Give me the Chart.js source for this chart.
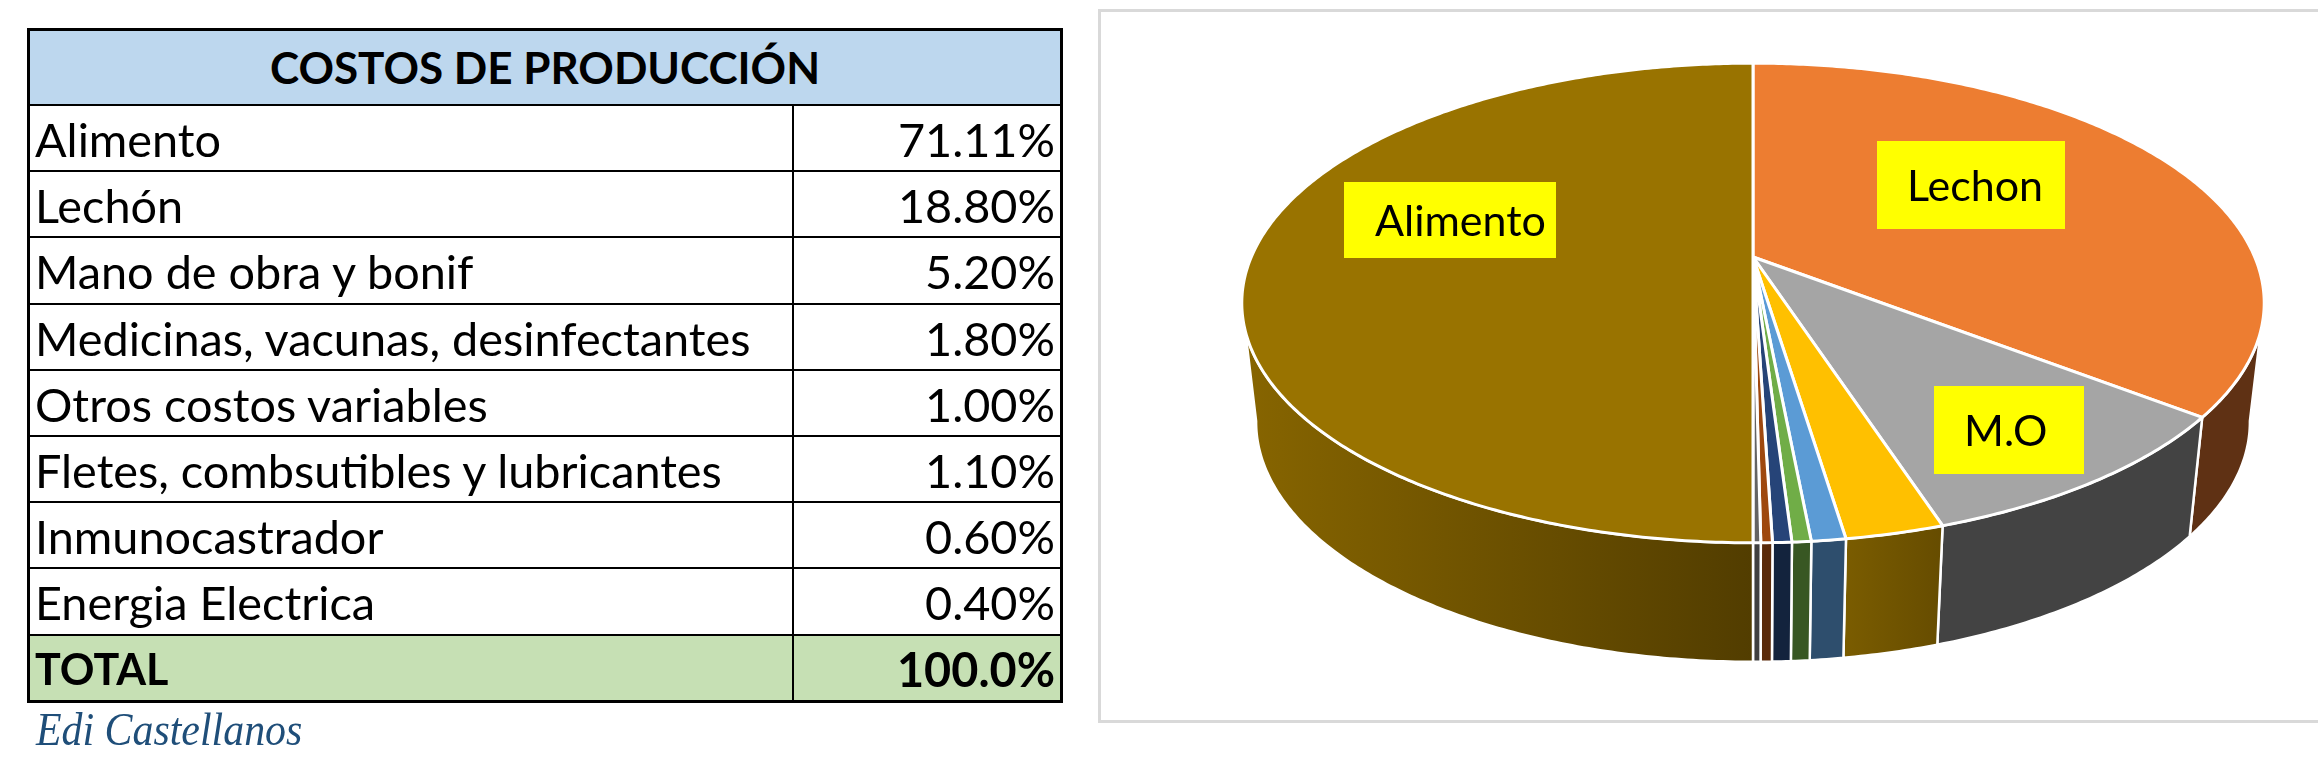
<!DOCTYPE html>
<html lang="es">
<head>
<meta charset="utf-8">
<title>Costos de producción</title>
<script src="https://cdn.jsdelivr.net/npm/chart.js@4/dist/chart.umd.js"></script>
<style>
  html, body { margin: 0; padding: 0; background: #fff; width: 2318px; height: 780px; overflow: hidden; }
  #frame { position: absolute; left: 1098px; top: 9px; width: 1220px; height: 708px; border: 3px solid #d9d9d9; border-right: none; }
  #chart { position: absolute; left: 0; top: 0; }
  #costos { position: absolute; left: 27px; top: 28px; width: 1036px; border-collapse: collapse; table-layout: fixed;
            font-family: Lato, sans-serif; font-size: 46.8px; color: #000; border: 3px solid #000; }
  #costos th, #costos td { border: 2px solid #000; padding: 2px 5px 0; height: 62.2px; line-height: 62.2px; white-space: nowrap; overflow: hidden; }
  #costos th { background: #bdd7ee; font-size: 44px; padding: 0 5px; height: 73px; line-height: 73px; text-align: center; }
  #costos td:nth-child(2) { text-align: right; }
  #costos tr.total td { background: #c6e0b4; font-weight: bold; }
  #costos tr.total td:first-child { font-size: 43px; }
  #firma { position: absolute; left: 36px; top: 703px; font-family: "Liberation Serif", serif; font-style: italic; font-size: 46px; color: #1f4e79; transform: scaleX(0.91); transform-origin: left top; }
</style>
</head>
<body>
<div id="frame"></div>
<canvas id="chart" width="2318" height="780"></canvas>
<table id="costos"><colgroup><col style="width:764px"><col></colgroup><thead><tr><th colspan="2">COSTOS DE PRODUCCIÓN</th></tr></thead><tbody></tbody></table>
<div id="firma">Edi Castellanos</div>
<script>
// tabla
const costNames = ['Alimento', 'Lechón', 'Mano de obra y bonif', 'Medicinas, vacunas, desinfectantes', 'Otros costos variables', 'Fletes, combsutibles y lubricantes', 'Inmunocastrador', 'Energia Electrica'];
const costShares = ['71.11%', '18.80%', '5.20%', '1.80%', '1.00%', '1.10%', '0.60%', '0.40%'];
const totalName = 'TOTAL';
const totalShare = '100.0%';

// pie: values, they do not follow the table
const sliceLabels = ['Lechon', 'M.O', '', '', '', '', '', '', 'Alimento'];
const sliceValues = [35.5, 9.5, 2.6, 0.9, 0.5, 0.5, 0.3, 0.2, 50];

const sliceColors = ['#ED7D31', '#A5A5A5', '#FFC000', '#5B9BD5', '#70AD47', '#264478', '#9E480E', '#636363', '#997300'];
const wallColors = ['#5F3114', '#434343', ['#7A5C00', '#664C00'], '#2E4E6D', '#385723', '#13233D', '#5A2A0A', '#404040', ['#876500', '#523D00']];
// x, y, w, h, text x, text y
const labelBoxes = [[1877, 141, 188, 88, 1907, 187], [1934, 386, 150, 88, 1964, 432], [1344, 182, 212, 76, 1375, 222]];

const tbody = document.querySelector('#costos tbody');
costNames.forEach((name, i) => {
    tbody.insertAdjacentHTML('beforeend', `<tr><td>${name}</td><td>${costShares[i]}</td></tr>`);
});
tbody.insertAdjacentHTML('beforeend', `<tr class="total"><td>${totalName}</td><td>${totalShare}</td></tr>`);

// perspective of the top face and drop of the side wall
const perspK = 0.1917;
const xStretch = 2.172;
const wallDrop = 119;
const wallScale = 0.972;

const topPoint = (arc, angle) => {
    const u = Math.cos(angle), v = Math.sin(angle);
    const d = 1 - perspK * v;
    return [arc.x + arc.outerRadius * xStretch * u / d, arc.y + arc.outerRadius * v / d];
};
const lowPoint = (arc, angle) => {
    const p = topPoint(arc, angle);
    return [arc.x + wallScale * (p[0] - arc.x), p[1] + wallDrop];
};
const angleSteps = (from, to) => {
    const out = [];
    const n = Math.max(2, Math.ceil((to - from) / 0.01));
    for (let i = 0; i <= n; i++) out.push(from + (to - from) * i / n);
    return out;
};

const pie3d = {
    id: 'pie3d',
    beforeDatasetsDraw(chart) {
        const ctx = chart.ctx;
        const arcs = chart.getDatasetMeta(0).data;
        const wallFrom = 0.19, wallTo = Math.PI - 0.19;

        ctx.save();
        ctx.lineJoin = 'round';
        ctx.strokeStyle = '#fff';

        // side wall, only the front part shows
        arcs.forEach((arc, i) => {
            const a0 = Math.max(arc.startAngle, wallFrom);
            const a1 = Math.min(arc.endAngle, wallTo);
            if (a1 <= a0) return;
            const steps = angleSteps(a0, a1);
            ctx.beginPath();
            steps.forEach((a, k) => {
                const p = topPoint(arc, a);
                k ? ctx.lineTo(p[0], p[1]) : ctx.moveTo(p[0], p[1]);
            });
            steps.reverse().forEach((a) => {
                const p = lowPoint(arc, a);
                ctx.lineTo(p[0], p[1]);
            });
            ctx.closePath();
            const c = wallColors[i];
            if (Array.isArray(c)) {
                const left = topPoint(arc, a1)[0], right = topPoint(arc, a0)[0];
                const g = ctx.createLinearGradient(left, 0, right, 0);
                g.addColorStop(0, c[0]);
                g.addColorStop(1, c[1]);
                ctx.fillStyle = g;
            } else {
                ctx.fillStyle = c;
            }
            ctx.fill();
            ctx.lineWidth = 2.5;
            ctx.stroke();
        });

        // top face
        arcs.forEach((arc) => {
            ctx.beginPath();
            ctx.moveTo(arc.x, arc.y);
            angleSteps(arc.startAngle, arc.endAngle).forEach((a) => {
                const p = topPoint(arc, a);
                ctx.lineTo(p[0], p[1]);
            });
            ctx.closePath();
            ctx.fillStyle = arc.options.backgroundColor;
            ctx.fill();
            ctx.lineWidth = 3;
            ctx.stroke();
        });

        // etiquetas
        ctx.font = '43px Lato, sans-serif';
        ctx.textBaseline = 'middle';
        ctx.textAlign = 'left';
        let n = 0;
        chart.data.labels.forEach((label) => {
            if (!label) return;
            const b = labelBoxes[n++];
            ctx.fillStyle = '#FFFF00';
            ctx.fillRect(b[0], b[1], b[2], b[3]);
            ctx.fillStyle = '#000';
            ctx.fillText(label, b[4], b[5]);
        });
        ctx.restore();
        return false;
    }
};

new Chart(document.getElementById('chart'), {
    type: 'pie',
    plugins: [pie3d],
    data: {
        labels: sliceLabels,
        datasets: [{
            data: sliceValues,
            backgroundColor: sliceColors,
            borderWidth: 0,
            hoverOffset: 0
        }]
    },
    options: {
        responsive: false,
        animation: false,
        events: [],
        layout: { padding: { left: 1253, right: 65, top: 26, bottom: 292 } },
        plugins: {
            legend: { display: false },
            tooltip: { enabled: false }
        }
    }
});
</script>
</body>
</html>
